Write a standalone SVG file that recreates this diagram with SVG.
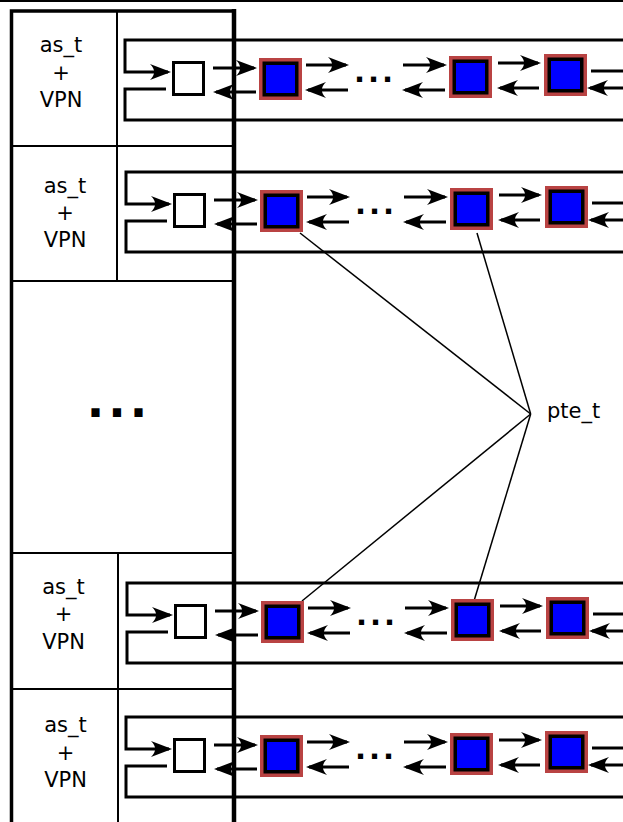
<svg xmlns="http://www.w3.org/2000/svg" xmlns:xlink="http://www.w3.org/1999/xlink" width="623" height="822" viewBox="0 0 623 822">
<style>
.frame{fill:none;stroke:#000;stroke-width:3.5}
.thin{fill:none;stroke:#000;stroke-width:2}
.ring{fill:none;stroke:#000;stroke-width:3}
.arr{fill:none;stroke:#000;stroke-width:3;marker-end:url(#ah)}
.lnk{fill:none;stroke:#000;stroke-width:1.5}
.port{fill:#fff;stroke:#000;stroke-width:3}
.lbl{font-family:"DejaVu Sans","Liberation Sans",sans-serif;font-size:21px;fill:#000;text-anchor:middle}
.dots{font-family:"DejaVu Sans","Liberation Sans",sans-serif;font-weight:bold;fill:#000;text-anchor:middle}
</style>
<defs>
<marker id="ah" markerUnits="userSpaceOnUse" orient="auto" overflow="visible" markerWidth="1" markerHeight="1" refX="0" refY="0">
<path d="M3,0 L-18,-8 C-12.5,-3 -12.5,3 -18,8 Z" fill="#000"/>
</marker>
<g id="pte">
<rect x="0" y="0" width="43" height="42" fill="#b94343"/>
<rect x="3.5" y="3.5" width="36" height="35" fill="#000"/>
<rect x="7" y="7" width="29" height="28" fill="#0000ff"/>
</g>
</defs>
<rect width="623" height="822" fill="#fff"/>
<line x1="0" y1="1" x2="623" y2="1" stroke="#000" stroke-width="2"/>

<g id="links">
<line class="lnk" x1="300" y1="233" x2="530.7" y2="414"/>
<line class="lnk" x1="477" y1="233" x2="530.7" y2="414"/>
<line class="lnk" x1="302" y1="601" x2="530.7" y2="414"/>
<line class="lnk" x1="474" y1="601" x2="530.7" y2="414"/>
</g>

<g id="connectors">
<g id="row1-conn">
<path class="ring" d="M623,40 H125 V72 H168" style="marker-end:url(#ah)"/>
<path class="ring" d="M166,89 H125 V120 H623"/>
<line class="arr" x1="213" y1="68" x2="254" y2="68"/>
<line class="arr" x1="306" y1="65" x2="346" y2="65"/>
<line class="arr" x1="403" y1="65" x2="444" y2="65"/>
<line class="arr" x1="498" y1="63" x2="538" y2="63"/>
<line class="arr" x1="256" y1="92" x2="216" y2="92"/>
<line class="arr" x1="348" y1="90" x2="308" y2="90"/>
<line class="arr" x1="445" y1="90" x2="405" y2="90"/>
<line class="arr" x1="539" y1="88" x2="500" y2="88"/>
<line class="arr" x1="625" y1="88" x2="590" y2="88"/>
<line class="ring" x1="591" y1="71" x2="623" y2="71"/>
</g>
<g id="row2-conn" transform="translate(1,132)">
<path class="ring" d="M623,40 H125 V72 H168" style="marker-end:url(#ah)"/>
<path class="ring" d="M166,89 H125 V120 H623"/>
<line class="arr" x1="213" y1="68" x2="254" y2="68"/>
<line class="arr" x1="306" y1="65" x2="346" y2="65"/>
<line class="arr" x1="403" y1="65" x2="444" y2="65"/>
<line class="arr" x1="498" y1="63" x2="538" y2="63"/>
<line class="arr" x1="256" y1="92" x2="216" y2="92"/>
<line class="arr" x1="348" y1="90" x2="308" y2="90"/>
<line class="arr" x1="445" y1="90" x2="405" y2="90"/>
<line class="arr" x1="539" y1="88" x2="500" y2="88"/>
<line class="arr" x1="625" y1="88" x2="590" y2="88"/>
<line class="ring" x1="591" y1="71" x2="623" y2="71"/>
</g>
<g id="row3-conn" transform="translate(2,543)">
<path class="ring" d="M623,40 H125 V72 H168" style="marker-end:url(#ah)"/>
<path class="ring" d="M166,89 H125 V120 H623"/>
<line class="arr" x1="213" y1="68" x2="254" y2="68"/>
<line class="arr" x1="306" y1="65" x2="346" y2="65"/>
<line class="arr" x1="403" y1="65" x2="444" y2="65"/>
<line class="arr" x1="498" y1="63" x2="538" y2="63"/>
<line class="arr" x1="256" y1="92" x2="216" y2="92"/>
<line class="arr" x1="348" y1="90" x2="308" y2="90"/>
<line class="arr" x1="445" y1="90" x2="405" y2="90"/>
<line class="arr" x1="539" y1="88" x2="500" y2="88"/>
<line class="arr" x1="625" y1="88" x2="590" y2="88"/>
<line class="ring" x1="591" y1="71" x2="623" y2="71"/>
</g>
<g id="row4-conn" transform="translate(1,677)">
<path class="ring" d="M623,40 H125 V72 H168" style="marker-end:url(#ah)"/>
<path class="ring" d="M166,89 H125 V120 H623"/>
<line class="arr" x1="213" y1="68" x2="254" y2="68"/>
<line class="arr" x1="306" y1="65" x2="346" y2="65"/>
<line class="arr" x1="403" y1="65" x2="444" y2="65"/>
<line class="arr" x1="498" y1="63" x2="538" y2="63"/>
<line class="arr" x1="256" y1="92" x2="216" y2="92"/>
<line class="arr" x1="348" y1="90" x2="308" y2="90"/>
<line class="arr" x1="445" y1="90" x2="405" y2="90"/>
<line class="arr" x1="539" y1="88" x2="500" y2="88"/>
<line class="arr" x1="625" y1="88" x2="590" y2="88"/>
<line class="ring" x1="591" y1="71" x2="623" y2="71"/>
</g>
</g>

<g id="as-frame">
<path class="frame" d="M11.5,822 V11 H234"/>
<line class="thin" x1="11" y1="146" x2="232" y2="146"/>
<line class="thin" x1="11" y1="281" x2="232" y2="281"/>
<line class="thin" x1="11" y1="553" x2="232" y2="553"/>
<line class="thin" x1="11" y1="689" x2="232" y2="689"/>
<line class="thin" x1="117" y1="11" x2="117" y2="281"/>
<line class="thin" x1="118" y1="553" x2="118" y2="822"/>
<line x1="234" y1="9" x2="234" y2="822" stroke="#000" stroke-width="4.5"/>
</g>

<g id="as1">
<text class="lbl" x="61" y="52">as_t</text>
<text class="lbl" x="61" y="79.5">+</text>
<text class="lbl" x="61" y="107">VPN</text>
</g>
<g id="as2">
<text class="lbl" x="65" y="193">as_t</text>
<text class="lbl" x="65" y="220">+</text>
<text class="lbl" x="65" y="247">VPN</text>
</g>
<g id="as3">
<text class="lbl" x="63.5" y="594">as_t</text>
<text class="lbl" x="63.5" y="621">+</text>
<text class="lbl" x="63.5" y="649">VPN</text>
</g>
<g id="as4">
<text class="lbl" x="65.5" y="732">as_t</text>
<text class="lbl" x="65.5" y="759.5">+</text>
<text class="lbl" x="65.5" y="787">VPN</text>
</g>
<g id="as-more">
<text class="dots" x="119" y="417" font-size="46" letter-spacing="4">...</text>
</g>

<g id="row1-port"><rect class="port" x="173.5" y="62.5" width="30" height="32"/></g>
<g id="row1-n1"><use xlink:href="#pte" x="259" y="58"/></g>
<g id="row1-more"><text class="dots" x="375" y="82" font-size="29" letter-spacing="3">...</text></g>
<g id="row1-n2"><use xlink:href="#pte" x="449" y="56"/></g>
<g id="row1-n3"><use xlink:href="#pte" x="544" y="54"/></g>

<g id="row2-port"><rect class="port" x="174.5" y="194.5" width="30" height="32"/></g>
<g id="row2-n1"><use xlink:href="#pte" x="260" y="190"/></g>
<g id="row2-more"><text class="dots" x="376" y="214" font-size="29" letter-spacing="3">...</text></g>
<g id="row2-n2"><use xlink:href="#pte" x="450" y="188"/></g>
<g id="row2-n3"><use xlink:href="#pte" x="545" y="186"/></g>

<g id="row3-port"><rect class="port" x="175.5" y="605.5" width="30" height="32"/></g>
<g id="row3-n1"><use xlink:href="#pte" x="261" y="601"/></g>
<g id="row3-more"><text class="dots" x="377" y="625" font-size="29" letter-spacing="3">...</text></g>
<g id="row3-n2"><use xlink:href="#pte" x="451" y="599"/></g>
<g id="row3-n3"><use xlink:href="#pte" x="546" y="597"/></g>

<g id="row4-port"><rect class="port" x="174.5" y="739.5" width="30" height="32"/></g>
<g id="row4-n1"><use xlink:href="#pte" x="260" y="735"/></g>
<g id="row4-more"><text class="dots" x="376" y="759" font-size="29" letter-spacing="3">...</text></g>
<g id="row4-n2"><use xlink:href="#pte" x="450" y="733"/></g>
<g id="row4-n3"><use xlink:href="#pte" x="545" y="731"/></g>

<g id="pte-label"><text class="lbl" x="547" y="418" style="text-anchor:start">pte_t</text></g>
</svg>
